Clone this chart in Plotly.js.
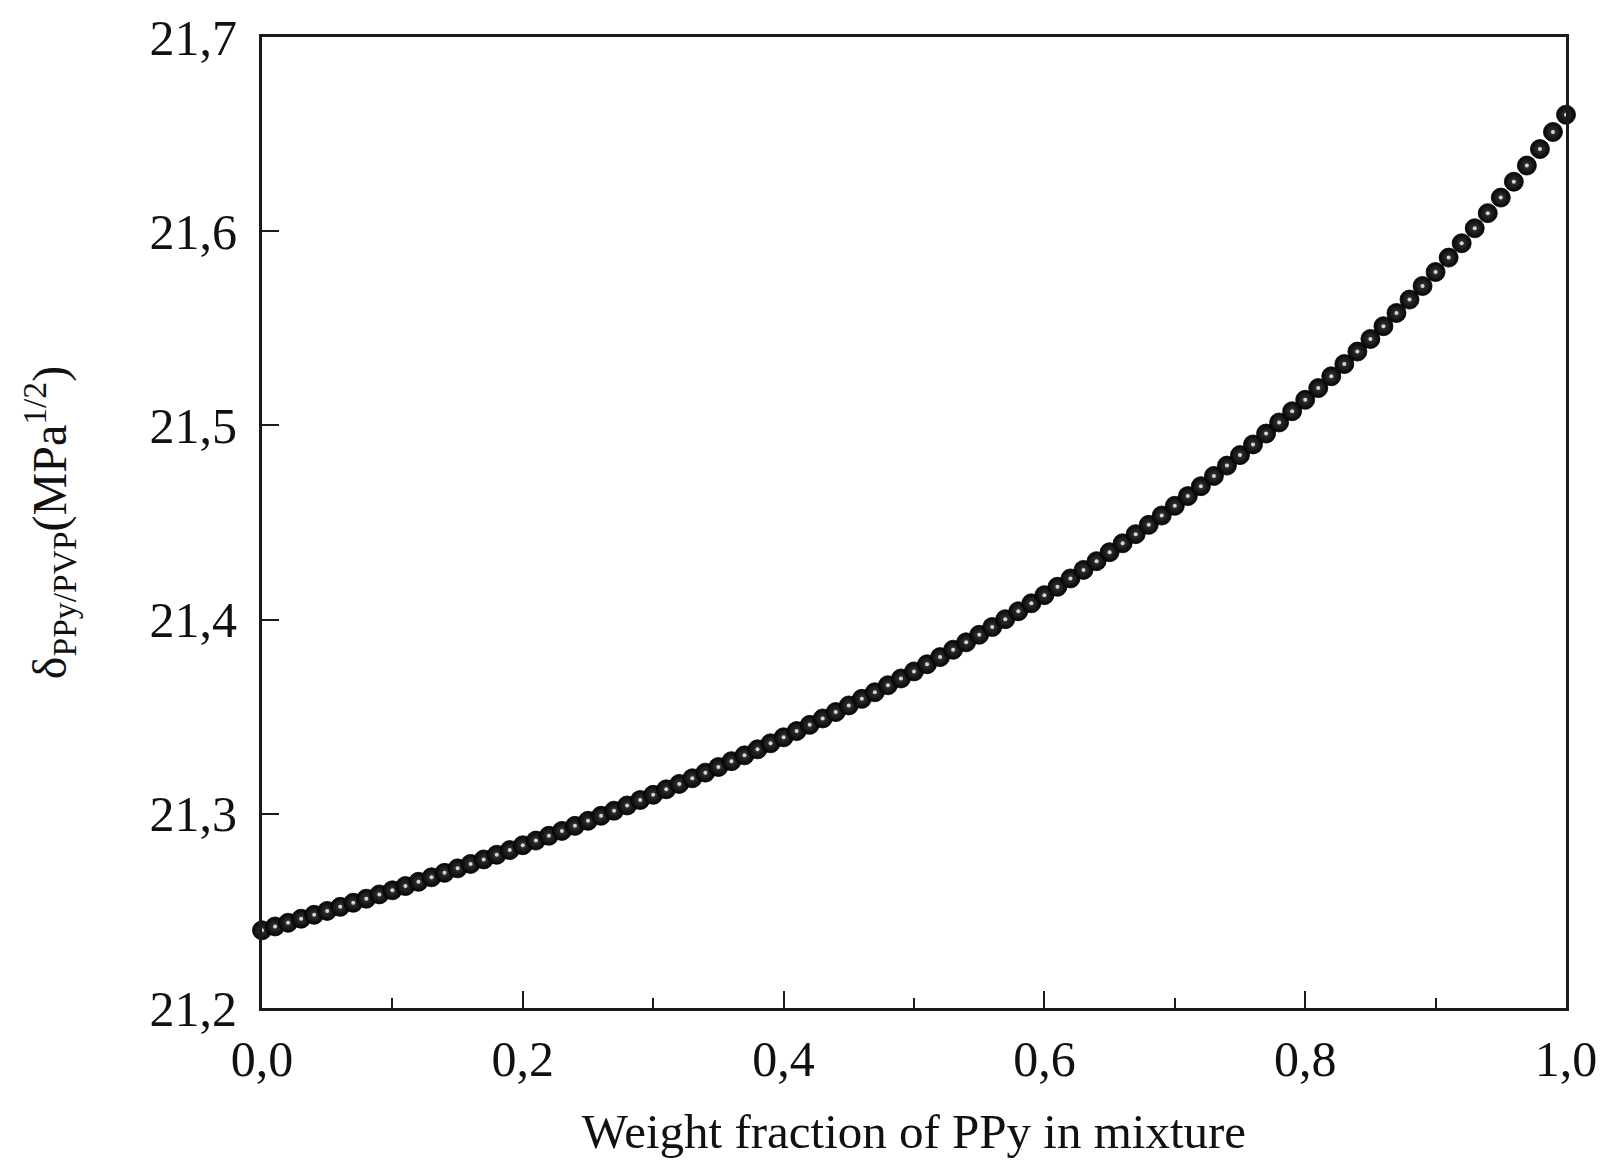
<!DOCTYPE html>
<html>
<head>
<meta charset="utf-8">
<script src="https://cdn.plot.ly/plotly-3.0.1.min.js"></script>
<style>
  html, body { margin: 0; padding: 0; background: #fff; }
  #chart { width: 1606px; height: 1164px; }
</style>
</head>
<body>
<div id="chart"></div>
<script>
// Weight fraction of PPy in mixture
const weightFraction = [
  0.00, 0.01, 0.02, 0.03, 0.04, 0.05, 0.06, 0.07, 0.08, 0.09,
  0.10, 0.11, 0.12, 0.13, 0.14, 0.15, 0.16, 0.17, 0.18, 0.19,
  0.20, 0.21, 0.22, 0.23, 0.24, 0.25, 0.26, 0.27, 0.28, 0.29,
  0.30, 0.31, 0.32, 0.33, 0.34, 0.35, 0.36, 0.37, 0.38, 0.39,
  0.40, 0.41, 0.42, 0.43, 0.44, 0.45, 0.46, 0.47, 0.48, 0.49,
  0.50, 0.51, 0.52, 0.53, 0.54, 0.55, 0.56, 0.57, 0.58, 0.59,
  0.60, 0.61, 0.62, 0.63, 0.64, 0.65, 0.66, 0.67, 0.68, 0.69,
  0.70, 0.71, 0.72, 0.73, 0.74, 0.75, 0.76, 0.77, 0.78, 0.79,
  0.80, 0.81, 0.82, 0.83, 0.84, 0.85, 0.86, 0.87, 0.88, 0.89,
  0.90, 0.91, 0.92, 0.93, 0.94, 0.95, 0.96, 0.97, 0.98, 0.99,
  1.00
];
// Solubility parameter of the PPy/PVP mixture (MPa^1/2)
const deltaMix = [
  21.2400, 21.2420, 21.2439, 21.2460, 21.2480, 21.2500, 21.2521, 21.2542, 21.2563, 21.2585,
  21.2606, 21.2628, 21.2650, 21.2673, 21.2696, 21.2719, 21.2742, 21.2765, 21.2789, 21.2813,
  21.2838, 21.2862, 21.2887, 21.2912, 21.2938, 21.2964, 21.2990, 21.3016, 21.3043, 21.3071,
  21.3098, 21.3126, 21.3154, 21.3183, 21.3212, 21.3241, 21.3271, 21.3301, 21.3332, 21.3363,
  21.3394, 21.3426, 21.3458, 21.3491, 21.3524, 21.3558, 21.3592, 21.3626, 21.3662, 21.3697,
  21.3733, 21.3770, 21.3807, 21.3845, 21.3883, 21.3922, 21.3962, 21.4002, 21.4043, 21.4084,
  21.4126, 21.4169, 21.4212, 21.4256, 21.4301, 21.4347, 21.4393, 21.4440, 21.4488, 21.4536,
  21.4586, 21.4636, 21.4687, 21.4740, 21.4793, 21.4847, 21.4902, 21.4958, 21.5015, 21.5073,
  21.5132, 21.5192, 21.5253, 21.5316, 21.5380, 21.5445, 21.5511, 21.5579, 21.5648, 21.5718,
  21.5790, 21.5864, 21.5938, 21.6015, 21.6093, 21.6173, 21.6255, 21.6338, 21.6423, 21.6511,
  21.6600
];

const xTitle = 'Weight fraction of PPy in mixture';
const yTitle = 'δ<sub>PPy/PVP</sub>(MPa<sup>1/2</sup>)';

const FONT = '"Liberation Serif", "Times New Roman", serif';
const AXC = '#1a1a1a';

const traces = [
  {
    x: weightFraction, y: deltaMix, type: 'scatter', mode: 'markers',
    cliponaxis: false, hoverinfo: 'x+y',
    marker: {
      size: 19, color: '#050505',
      gradient: { type: 'radial', color: '#3a3a3a' },
      line: { width: 0.8, color: '#000' }
    },
    showlegend: false
  },
  {
    x: weightFraction, y: deltaMix, type: 'scatter', mode: 'markers',
    cliponaxis: false, hoverinfo: 'skip',
    marker: { size: 4, color: '#d4d4d4', line: { width: 0 } },
    showlegend: false
  }
];

const layout = {
  width: 1606, height: 1164,
  paper_bgcolor: '#fff', plot_bgcolor: '#fff',
  separators: ', ',
  margin: { l: 262, r: 40, t: 37, b: 156, pad: 0 },
  font: { family: FONT, size: 50, color: '#111' },
  xaxis: {
    range: [0, 1], dtick: 0.2, tick0: 0, tickformat: '.1f',
    ticks: 'inside', ticklen: 17, tickwidth: 2, tickcolor: AXC,
    minor: { dtick: 0.1, ticks: 'inside', ticklen: 10, tickwidth: 2, tickcolor: AXC },
    showline: true, linecolor: AXC, linewidth: 3, mirror: true,
    showgrid: false, zeroline: false,
    tickfont: { family: FONT, size: 50, color: '#111' },
    ticklabelstandoff: 5,
    title: { text: xTitle, font: { family: FONT, size: 49, color: '#111' }, standoff: 28 }
  },
  yaxis: {
    range: [21.2, 21.7], dtick: 0.1, tick0: 21.2, tickformat: '.1f',
    ticks: 'inside', ticklen: 17, tickwidth: 2, tickcolor: AXC,
    showline: true, linecolor: AXC, linewidth: 3, mirror: true,
    showgrid: false, zeroline: false,
    tickfont: { family: FONT, size: 50, color: '#111' },
    ticklabelstandoff: 12,
    title: { text: yTitle, font: { family: FONT, size: 48, color: '#111' }, standoff: 68 }
  }
};

Plotly.newPlot('chart', traces, layout, { staticPlot: true, displayModeBar: false });
</script>
</body>
</html>
